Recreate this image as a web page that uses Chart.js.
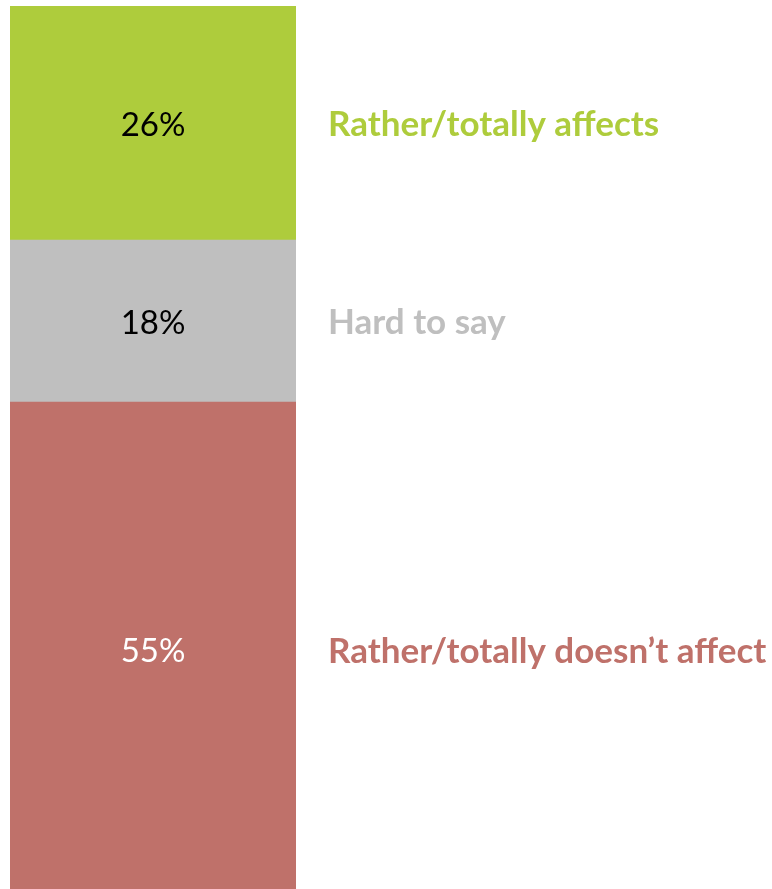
<!DOCTYPE html>
<html>
<head>
<meta charset="utf-8">
<script src="https://cdn.jsdelivr.net/npm/chart.js@4"></script>
<style>
  html, body { margin: 0; padding: 0; background: #ffffff; overflow: hidden; }
  #wrap { width: 772px; height: 897px; position: relative; }
</style>
</head>
<body>
<div id="wrap"><canvas id="chart"></canvas></div>
<script>
// Single stacked column, segments listed bottom to top
const categories = [''];
const segmentNames = ['Rather/totally doesn\u2019t affect', 'Hard to say', 'Rather/totally affects'];
const segmentValues = [55, 18, 26];
const segmentColors = ['#BF716A', '#BFBFBF', '#AECC3C'];
const valueTextColors = ['#FFFFFF', '#000000', '#000000'];

const datasets = segmentNames.map((name, i) => ({
  label: name,
  data: [segmentValues[i]],
  backgroundColor: segmentColors[i],
  borderWidth: 0,
  barPercentage: 1,
  categoryPercentage: 1,
  stack: 's'
}));

// Draws the percentage inside each segment and its name to the right
const segmentLabels = {
  id: 'segmentLabels',
  afterDatasetsDraw(chart) {
    const ctx = chart.ctx;
    ctx.save();
    ctx.textBaseline = 'middle';
    chart.data.datasets.forEach((ds, i) => {
      const bar = chart.getDatasetMeta(i).data[0];
      const yMid = (bar.y + bar.base) / 2 + 2;
      ctx.font = '33px "Lato", "Open Sans", sans-serif';
      ctx.fillStyle = valueTextColors[i];
      ctx.textAlign = 'center';
      ctx.fillText(ds.data[0] + '%', bar.x, yMid);
      ctx.font = 'bold 35px "Lato", "Open Sans", sans-serif';
      ctx.fillStyle = segmentColors[i];
      ctx.textAlign = 'left';
      ctx.fillText(ds.label, bar.x + bar.width / 2 + 32, yMid);
    });
    ctx.restore();
  }
};

new Chart(document.getElementById('chart'), {
  type: 'bar',
  data: { labels: categories, datasets },
  options: {
    responsive: true,
    maintainAspectRatio: false,
    animation: false,
    layout: { padding: { left: 10, right: 476, top: 6, bottom: 0 } },
    plugins: { legend: { display: false }, tooltip: { enabled: false } },
    scales: {
      x: { display: false, stacked: true },
      y: { display: false, stacked: true, min: 0, max: 99 }
    }
  },
  plugins: [segmentLabels]
});
</script>
</body>
</html>
